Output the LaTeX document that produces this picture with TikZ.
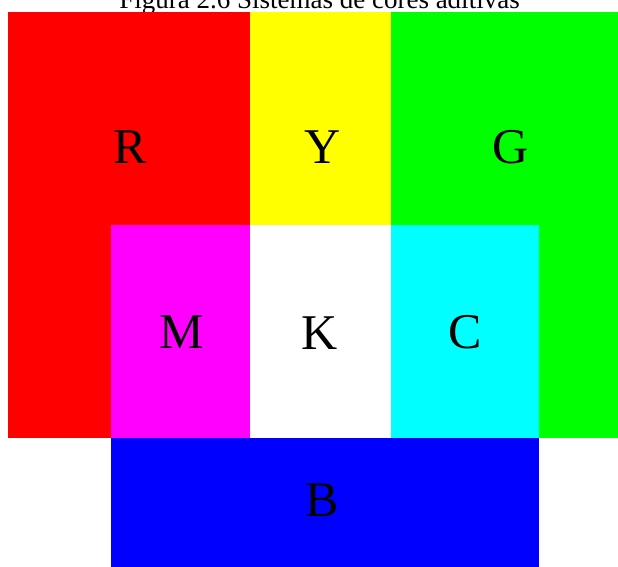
\documentclass[tikz,border=0pt]{standalone}
\usepackage{fontspec}
\setmainfont{Liberation Serif}
\definecolor{addred}{RGB}{255,0,0}
\definecolor{addyellow}{RGB}{255,255,0}
\definecolor{addgreen}{RGB}{0,255,0}
\definecolor{addmagenta}{RGB}{255,0,255}
\definecolor{addcyan}{RGB}{0,255,255}
\definecolor{addblue}{RGB}{0,0,255}
\tikzset{
  letter/.style  = {font=\fontsize{50}{60}\selectfont, inner sep=0pt},
  caption/.style = {font=\fontsize{27}{32}\selectfont, anchor=base, inner sep=0pt},
}
\begin{document}
\begin{tikzpicture}[x=1pt,y=-1pt]
  \useasboundingbox (0,0) rectangle (618,567);
  \clip (0,0) rectangle (618,567);
  \node[caption] (title) at (319.5,9) {Figura 2.6 Sistemas de cores aditivas};

  % colour panels
  \fill[addred]     (8,12)    rectangle (250,438);
  \fill[addyellow]  (250,12)  rectangle (391,225);
  \fill[addgreen]   (391,12)  rectangle (618,438);
  \fill[addmagenta] (111,225) rectangle (250,438);
  \fill[white]      (250,225) rectangle (391,438);
  \fill[addcyan]    (391,225) rectangle (539,438);
  \fill[addblue]    (111,438) rectangle (539,567);

  % labels
  \node[letter] (R) at (130,147) {R};
  \node[letter] (Y) at (323,147) {Y};
  \node[letter] (G) at (511,147) {G};
  \node[letter] (M) at (182,332) {M};
  \node[letter] (K) at (320,333) {K};
  \node[letter] (C) at (465,332) {C};
  \node[letter] (B) at (322,500) {B};
\end{tikzpicture}
\end{document}
